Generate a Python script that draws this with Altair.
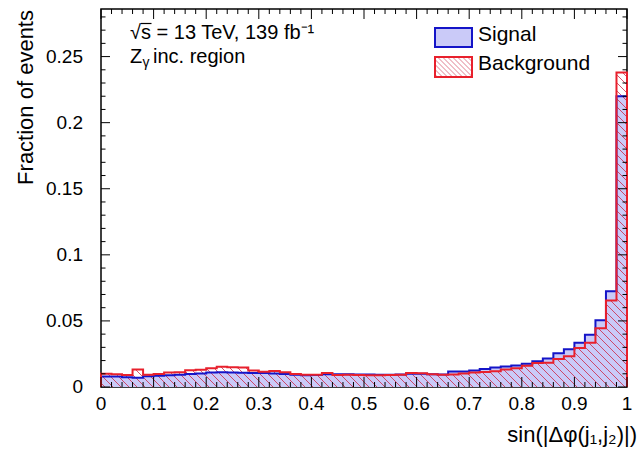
import altair as alt
import pandas as pd

# ---------------- data ----------------
bin_low = [i / 50 for i in range(50)]  # 50 bins of width 0.02 on [0, 1]

signal = [0.0080, 0.0080, 0.0074, 0.0070, 0.0082, 0.0086, 0.0088, 0.0092, 0.0098, 0.0102, 0.0110, 0.0112,
          0.0110, 0.0108, 0.0106, 0.0106, 0.0102, 0.0098, 0.0092, 0.0088, 0.0090, 0.0096, 0.0096, 0.0096, 0.0094,
          0.0094, 0.0092, 0.0092, 0.0094, 0.0100, 0.0100, 0.0096, 0.0094, 0.0118, 0.0118, 0.0125, 0.0136,
          0.0148, 0.0155, 0.0162, 0.0175, 0.0195, 0.0215, 0.0255, 0.0285, 0.0335, 0.0395, 0.0505, 0.0725, 0.2200]

background = [0.0100, 0.0096, 0.0090, 0.0132, 0.0092, 0.0098, 0.0110, 0.0112, 0.0126, 0.0130, 0.0141, 0.0154,
              0.0150, 0.0148, 0.0124, 0.0116, 0.0122, 0.0112, 0.0098, 0.0092, 0.0092, 0.0106, 0.0090, 0.0092, 0.0090,
              0.0088, 0.0088, 0.0090, 0.0092, 0.0106, 0.0104, 0.0096, 0.0092, 0.0094, 0.0102, 0.0110, 0.0114,
              0.0120, 0.0132, 0.0142, 0.0160, 0.0182, 0.0183, 0.0212, 0.0232, 0.0295, 0.0335, 0.0445, 0.0655, 0.2380]

x_tick_values = [0, 0.1, 0.2, 0.3, 0.4, 0.5, 0.6, 0.7, 0.8, 0.9, 1.0]
x_tick_text = ["0", "0.1", "0.2", "0.3", "0.4", "0.5", "0.6", "0.7", "0.8", "0.9", "1"]
y_tick_values = [0, 0.05, 0.1, 0.15, 0.2, 0.25]
y_tick_text = ["0", "0.05", "0.1", "0.15", "0.2", "0.25"]
x_minor = [i / 50 for i in range(51) if i % 5]
y_minor = [i / 100 for i in range(29) if i % 5]

x_title = "sin(|Δφ(j₁,j₂)|)"
y_title = "Fraction of events"
label_lumi = "√s = 13 TeV, 139 fb⁻¹"
legend_labels = ["Signal", "Background"]

# ---------------- styling ----------------
W, H = 526, 378
YMAX = 0.286
FONT = "Liberation Sans"
BLUE = "#1414c8"
RED = "#e8202c"
LAV = "#cacaf8"
HATCH = (205, 40, 70)

xs = alt.Scale(domain=[0, 1], nice=False, zero=False)
ys = alt.Scale(domain=[0, YMAX], nice=False, zero=True)


def hatch(box_w, box_h, spacing, alpha):
    """Diagonal '\\' hatch as a striped linear gradient over the mark's box."""
    r = box_h / box_w
    s = (1 + r) / (1 + r * r)
    px_per_t = (1 + r) * box_w
    dt = spacing / px_per_t
    hw = 1.0 / px_per_t
    col = "rgba(%d,%d,%d,%s)" % (HATCH + (alpha,))
    clr = "rgba(%d,%d,%d,0)" % HATCH
    stops = [alt.GradientStop(offset=0, color=clr)]
    c = dt / 2
    while c + hw < 1:
        stops += [alt.GradientStop(offset=round(c - hw, 5), color=clr),
                  alt.GradientStop(offset=round(c, 5), color=col),
                  alt.GradientStop(offset=round(c + hw, 5), color=clr)]
        c += dt
    stops.append(alt.GradientStop(offset=1, color=clr))
    return alt.LinearGradient(gradient="linear", stops=stops,
                              x1=0, y1=1, x2=round(s, 5), y2=round(1 - r * s, 5))


def area_df(vals):
    return pd.DataFrame({"x": bin_low + [1.0], "y": vals + [vals[-1]]})


def line_df(vals):
    xx = [0.0] + bin_low + [1.0, 1.0]
    yy = [0.0] + vals + [vals[-1], 0.0]
    return pd.DataFrame({"x": xx, "y": yy, "o": list(range(len(xx)))})


X = lambda f: alt.X(f, scale=xs, axis=None)
Y = lambda f: alt.Y(f, scale=ys, axis=None)

sig_area = alt.Chart(area_df(signal)).mark_area(interpolate="step-after", fill=LAV).encode(
    x=X("x:Q"), y=Y("y:Q"))

bkg_box_h = max(background) / YMAX * H
bkg_area = alt.Chart(area_df(background)).mark_area(
    interpolate="step-after", fill=hatch(W, bkg_box_h, 8, 0.8)).encode(x=X("x:Q"), y=Y("y:Q"))

sig_line = alt.Chart(line_df(signal)).mark_line(interpolate="step-after", color=BLUE, strokeWidth=2).encode(
    x=X("x:Q"), y=Y("y:Q"), order="o:Q")
bkg_line = alt.Chart(line_df(background)).mark_line(interpolate="step-after", color=RED, strokeWidth=2).encode(
    x=X("x:Q"), y=Y("y:Q"), order="o:Q")


def xticks(vals, y0, y1):
    return alt.Chart(pd.DataFrame({"t": vals})).mark_rule(color="black", strokeWidth=1).encode(
        x=X("t:Q"), y=alt.value(y0), y2=alt.value(y1))


def yticks(vals, x0, x1):
    return alt.Chart(pd.DataFrame({"t": vals})).mark_rule(color="black", strokeWidth=1).encode(
        y=Y("t:Q"), x=alt.value(x0), x2=alt.value(x1))


XM, Xm, YM, Ym = 10, 5, 9, 4.5
ticks = [
    xticks(x_tick_values, H, H - XM), xticks(x_minor, H, H - Xm),
    xticks(x_tick_values, 0, XM), xticks(x_minor, 0, Xm),
    yticks(y_tick_values, 0, YM), yticks(y_minor, 0, Ym),
    yticks(y_tick_values, W, W - YM), yticks(y_minor, W, W - Ym),
]

xlab = alt.Chart(pd.DataFrame({"t": x_tick_values, "s": x_tick_text})).mark_text(
    font=FONT, fontSize=19, align="center", baseline="top", color="black").encode(
    x=X("t:Q"), y=alt.value(H + 8), text="s:N")
ylab = alt.Chart(pd.DataFrame({"t": y_tick_values, "s": y_tick_text})).mark_text(
    font=FONT, fontSize=19, align="right", baseline="middle", color="black").encode(
    y=Y("t:Q"), x=alt.value(-18), text="s:N")

one = pd.DataFrame({"a": [0]})


def txt(s, x, y, size, angle=0, align="left"):
    return alt.Chart(one).mark_text(text=s, font=FONT, fontSize=size, align=align, baseline="alphabetic",
                                    angle=angle, color="black").encode(x=alt.value(x), y=alt.value(y))


texts = [
    txt(x_title, 536, 433, 22, align="right"),
    txt(y_title, -68, 1, 22, angle=270, align="right"),
    txt(label_lumi, 29, 30, 20),
    txt("Z", 29, 54, 20),
    txt("γ", 41.5, 58, 14),
    txt("inc. region", 52, 54, 20),
    txt(legend_labels[0], 377, 32, 21),
    txt(legend_labels[1], 377, 61, 21),
]

# overline of the square-root sign
sqrt_bar = alt.Chart(one).mark_rule(color="black", strokeWidth=1.2).encode(
    x=alt.value(40), x2=alt.value(50.5), y=alt.value(14.5))

leg_sig = alt.Chart(one).mark_rect(fill=LAV, stroke=BLUE, strokeWidth=2).encode(
    x=alt.value(334), x2=alt.value(371), y=alt.value(19), y2=alt.value(38))
leg_bkg = alt.Chart(one).mark_rect(fill=hatch(37, 20, 5, 0.6), stroke=RED, strokeWidth=2).encode(
    x=alt.value(334), x2=alt.value(371), y=alt.value(48), y2=alt.value(68))

chart = alt.layer(sig_area, bkg_area, sig_line, bkg_line, *ticks, xlab, ylab, *texts, sqrt_bar,
                  leg_sig, leg_bkg).properties(
    width=W, height=H, autosize="none",
    padding={"left": 101, "top": 9, "right": 14, "bottom": 77},
    background="white",
).configure_view(stroke="black", strokeWidth=1.5)

chart.save("out.html", embed_options={"renderer": "svg", "actions": False})
